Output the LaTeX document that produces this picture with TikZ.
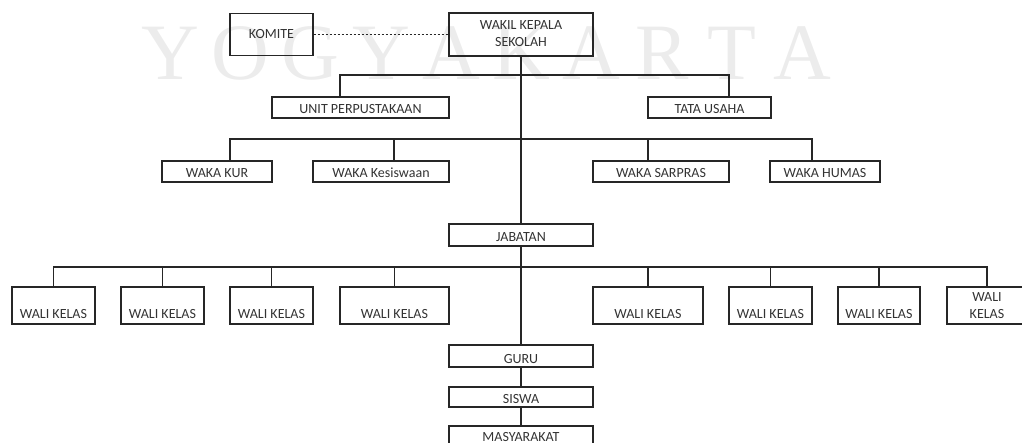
\documentclass[tikz,border=0pt]{standalone}
\usepackage{fontspec}
\setmainfont{Carlito}
\newfontfamily\fonteMarca{Liberation Serif}
\usepackage{tikz}
\definecolor{linha}{rgb}{0.15,0.15,0.15}
\definecolor{texto}{rgb}{0.2,0.2,0.2}
\definecolor{marca}{rgb}{0.925,0.925,0.925}

\begin{document}
\begin{tikzpicture}[x=1pt,y=-1pt,
		kotak/.style={draw=linha, line width=1.2pt, inner sep=0pt, text=texto,
			font=\fontsize{14}{17}\selectfont, text height=17pt, text depth=4pt},
		wali/.style={kotak, text height=31.5pt, text depth=5.5pt},
		garis/.style={draw=linha, line width=1.2pt}]
	\useasboundingbox (0,0) rectangle (1022,443);
	\clip (0,0) rectangle (1022,443);
	% marca d'agua
	\foreach \h [count=\i from 0] in {Y,O,G,Y,A,K,A,R,T,A}
		\node[text=marca, font=\fonteMarca\fontsize{80}{80}\selectfont, anchor=base] (marca\i) at (170+70.3*\i,80) {\h};
	% caixas
	\node[kotak, minimum width=83pt, text height=25.5pt, text depth=16.5pt] (komite) at (271.5,34.5) {KOMITE};
	\node[kotak, minimum width=144pt, text height=34pt, text depth=9pt] (wakil) at (521,34.5)
		{\begin{tabular}[b]{@{}c@{}}WAKIL KEPALA\\SEKOLAH\end{tabular}};
	\node[kotak, minimum width=177pt] (perpus) at (360.5,107.5) {UNIT PERPUSTAKAAN};
	\node[kotak, minimum width=123pt] (tu) at (709.5,107.5) {TATA USAHA};
	\node[kotak, minimum width=110pt] (kur) at (217,171.5) {WAKA KUR};
	\node[kotak, minimum width=136pt] (kesiswaan) at (381,171.5) {WAKA Kesiswaan};
	\node[kotak, minimum width=136pt] (sarpras) at (661,171.5) {WAKA SARPRAS};
	\node[kotak, minimum width=110pt] (humas) at (825,171.5) {WAKA HUMAS};
	\node[kotak, minimum width=144pt, text height=18pt] (jabatan) at (521,235) {JABATAN};
	\foreach \x/\w [count=\i] in {53.5/83, 162.5/83, 271.5/83, 394.5/109, 648/110, 770.5/83, 879/82}
		\node[wali, minimum width=\w pt] (wali\i) at (\x,305.5) {WALI KELAS};
	\node[wali, minimum width=80pt] (wali8) at (987,305.5)
		{\begin{tabular}[b]{@{}c@{}}WALI\\KELAS\end{tabular}};
	\node[kotak, minimum width=144pt, text height=18pt] (guru) at (521,356) {GURU};
	\node[kotak, minimum width=144pt, text height=16pt] (siswa) at (521,397) {SISWA};
	\node[kotak, minimum width=144pt, text height=15.5pt, text depth=5.5pt] (masyarakat) at (521,436.5) {MASYARAKAT};
	% garis
	\coordinate (bus1) at (521,75);
	\coordinate (bus2) at (521,139);
	\coordinate (bus3) at (521,267);
	\draw[garis, line width=0.9pt, dash pattern=on 2.5pt off 1.5pt] (komite) -- (wakil);
	\draw[garis] (wakil) -- (jabatan);
	\draw[garis] (jabatan) -- (guru);
	\draw[garis] (guru) -- (siswa);
	\draw[garis] (siswa) -- (masyarakat);
	\draw[garis] ([xshift=-20.5pt]perpus.north) |- ([xshift=19.5pt]tu.north |- bus1) -- ([xshift=19.5pt]tu.north);
	\draw[garis] ([xshift=13pt]kur.north) |- ([xshift=-13pt]humas.north |- bus2) -- ([xshift=-13pt]humas.north);
	\draw[garis] ([xshift=13pt]kesiswaan.north) -- ([xshift=13pt]kesiswaan.north |- bus2);
	\draw[garis] ([xshift=-13pt]sarpras.north) -- ([xshift=-13pt]sarpras.north |- bus2);
	\draw[garis] (wali1) |- (wali8.north |- bus3) -- (wali8);
	\foreach \i in {2,...,7}
		\draw[garis] (wali\i) -- (wali\i.north |- bus3);
\end{tikzpicture}
\end{document}
